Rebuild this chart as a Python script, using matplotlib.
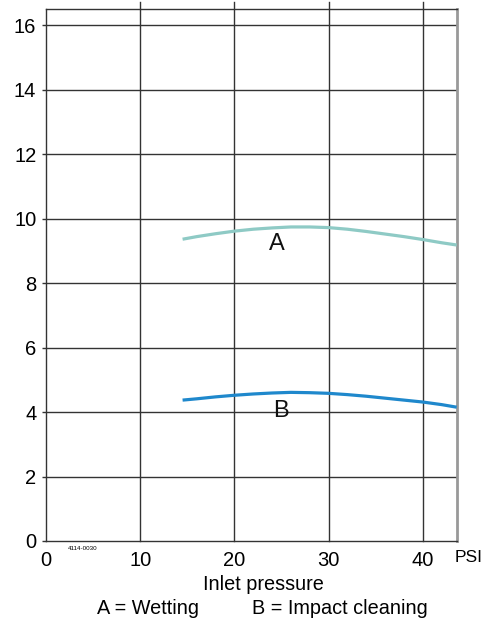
import matplotlib.pyplot as plt
import numpy as np

plt.rcParams['font.family'] = ['Liberation Sans', 'DejaVu Sans']

# curve data (inlet pressure PSI -> flow)
psi_a = [14.5, 16, 18, 20, 22, 24, 26, 28, 30, 32, 34, 36, 38, 40, 42, 43.6]
flow_a = [9.36, 9.44, 9.53, 9.61, 9.67, 9.71, 9.74, 9.74, 9.72, 9.67, 9.6, 9.52, 9.44, 9.35, 9.25, 9.18]
psi_b = [14.5, 16, 18, 20, 22, 24, 26, 28, 30, 32, 34, 36, 38, 40, 42, 43.6]
flow_b = [4.37, 4.41, 4.47, 4.52, 4.56, 4.59, 4.61, 4.60, 4.58, 4.54, 4.49, 4.43, 4.37, 4.31, 4.23, 4.15]

x_ticks = [0, 10, 20, 30, 40]
y_ticks = [0, 2, 4, 6, 8, 10, 12, 14, 16]

fig = plt.figure(figsize=(5.01, 6.23), dpi=100)
ax = fig.add_axes([46 / 501, 1 - 541 / 623, (456.7 - 46) / 501, (541 - 9) / 623])

ax.set_xlim(0, 43.6)
ax.set_ylim(0, 16.5)

# grid
for yv in y_ticks[1:]:
    ax.axhline(yv, color='#333333', lw=1.0, zorder=1)
for xv in x_ticks[1:]:
    ax.axvline(xv, ymin=0, ymax=1.013, color='#333333', lw=1.0, clip_on=False, zorder=1)

ax.plot(psi_a, flow_a, color='#8ecac5', lw=2.3, solid_capstyle='butt', zorder=3)
ax.plot(psi_b, flow_b, color='#1f88cc', lw=2.3, solid_capstyle='butt', zorder=3)

ax.text(24.5, 9.2, 'A', fontsize=17, ha='center', va='center', color='#111111')
ax.text(24.9, 4.03, 'B', fontsize=17, ha='center', va='center', color='#111111')

ax.set_xticks(x_ticks)
ax.set_yticks(y_ticks)
ax.tick_params(axis='x', length=0, pad=7, labelsize=14.5)
ax.tick_params(axis='y', length=3, width=1.0, color='#333333', pad=4, labelsize=14.5)

for s in ['left', 'bottom', 'top']:
    ax.spines[s].set_color('#333333')
    ax.spines[s].set_linewidth(1.0)
ax.spines['right'].set_color('#999999')
ax.spines['right'].set_linewidth(2.0)

fig.text(469 / 501, 1 - 558 / 623, 'PSI', fontsize=12.5, ha='center', va='center')
fig.text(83 / 501, 1 - 548 / 623, '4114-0030', fontsize=4.5, ha='center', va='center')
fig.text(263 / 501, 1 - 585 / 623, 'Inlet pressure', fontsize=14.3, ha='center', va='center')
fig.text(148 / 501, 1 - 608 / 623, 'A = Wetting', fontsize=14.3, ha='center', va='center')
fig.text(340 / 501, 1 - 608 / 623, 'B = Impact cleaning', fontsize=14.3, ha='center', va='center')

fig.savefig('out.png', dpi=100)
